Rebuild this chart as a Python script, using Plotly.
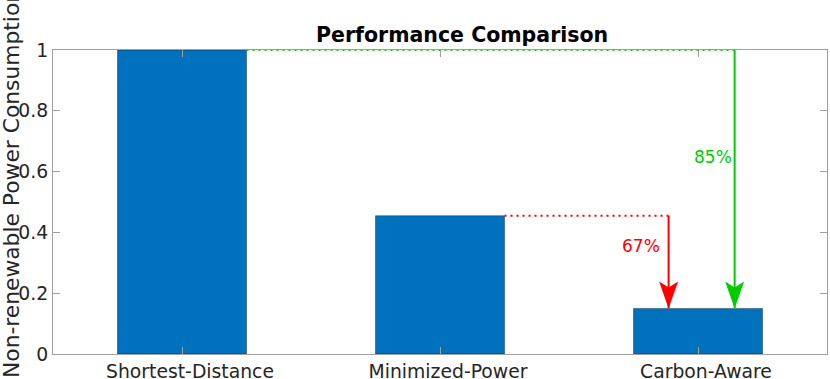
import plotly.graph_objects as go

# ---- data ----
categories = ["Shortest-Distance", "Minimized-Power", "Carbon-Aware"]
power = [1.0, 0.455, 0.150]
ytick_vals = [0, 0.2, 0.4, 0.6, 0.8, 1]
ytick_text = ["0", "0.2", "0.4", "0.6", "0.8", "1"]
reduction_labels = ["67%", "85%"]

# ---- style / layout constants ----
BAR_W = 0.5
x_pos = [1, 2, 3]
BLUE = "#0072BD"
RED = "#FF0000"
GREEN = "#00CC00"
AXC = "#A0A0A0"
TXT = "#262626"
FONT = "DejaVu Sans"

W, H = 830, 379
ML, MR, MT, MB = 53, 3, 50, 25
PW, PH = W - ML - MR, H - MT - MB

red_x = x_pos[2] - 0.114
green_x = x_pos[2] + 0.142

fig = go.Figure(
    go.Bar(
        x=x_pos,
        y=power,
        width=BAR_W,
        marker=dict(color=BLUE, line=dict(color="rgba(0,0,0,0.35)", width=1)),
        hoverinfo="skip",
    )
)

shapes = []


def add_arrow(x_from, y_from, x_arrow, y_to, color):
    # dotted connector
    shapes.append(dict(type="line", xref="x", yref="y", layer="above",
                       x0=x_from, x1=x_arrow, y0=y_from, y1=y_from,
                       line=dict(color=color, width=2, dash="2px,4px")))
    # arrow shaft
    shapes.append(dict(type="line", xref="x", yref="y", layer="above",
                       x0=x_arrow, x1=x_arrow, y0=y_from, y1=y_to,
                       line=dict(color=color, width=2)))
    # arrow head (pixel sized, anchored at tip)
    shapes.append(dict(type="path", xref="x", yref="y", layer="above",
                       xsizemode="pixel", ysizemode="pixel",
                       xanchor=x_arrow, yanchor=y_to,
                       path="M0,0 L-9.5,27 L0,21 L9.5,27 Z",
                       fillcolor=color, line=dict(width=0)))


add_arrow(x_pos[1] + BAR_W / 2, power[1], red_x, power[2], RED)
add_arrow(x_pos[0] + BAR_W / 2, power[0], green_x, power[2], GREEN)

annotations = [
    dict(text="<b>Performance Comparison</b>", xref="paper", yref="paper",
         x=(461.5 - ML) / PW, y=(H - MB - 35) / PH, xanchor="center", yanchor="middle",
         showarrow=False, font=dict(family=FONT, size=20.5, color="black")),
    dict(text="Non-renewable Power Consumption", xref="paper", yref="paper",
         x=(11 - ML) / PW, y=(H - MB - 184) / PH, xanchor="center", yanchor="middle",
         textangle=-90, showarrow=False, font=dict(family=FONT, size=21.8, color=TXT)),
    dict(text=reduction_labels[0], xref="x", yref="y", x=red_x, y=0.355,
         xanchor="right", yanchor="middle", xshift=-7, showarrow=False,
         font=dict(family=FONT, size=17, color=RED)),
    dict(text=reduction_labels[1], xref="x", yref="y", x=green_x, y=0.649,
         xanchor="right", yanchor="middle", xshift=-1, showarrow=False,
         font=dict(family=FONT, size=17, color=GREEN)),
]

fig.update_layout(
    width=W, height=H,
    margin=dict(l=ML, r=MR, t=MT, b=MB, pad=0, autoexpand=False),
    plot_bgcolor="white", paper_bgcolor="white",
    showlegend=False,
    font=dict(family=FONT, size=18.8, color=TXT),
    shapes=shapes,
    annotations=annotations,
)
fig.update_xaxes(range=[0.5, 3.5], tickvals=x_pos, ticktext=categories,
                 ticks="inside", ticklen=7, tickcolor=AXC, tickwidth=1,
                 showline=True, linecolor=AXC, linewidth=1, mirror="ticks",
                 showgrid=False, zeroline=False, automargin=False,
                 ticklabelshift=8,
                 tickfont=dict(size=18.8, color=TXT))
fig.update_yaxes(range=[0, 1], tickvals=ytick_vals, ticktext=ytick_text,
                 ticks="inside", ticklen=7, tickcolor=AXC, tickwidth=1,
                 showline=True, linecolor=AXC, linewidth=1, mirror="ticks",
                 showgrid=False, zeroline=False, automargin=False,
                 tickfont=dict(size=18.8, color=TXT))

fig.write_html("out.html",
               config={"displayModeBar": False, "staticPlot": True},
               post_script="document.body.style.margin='0px';document.body.style.overflow='hidden';")
